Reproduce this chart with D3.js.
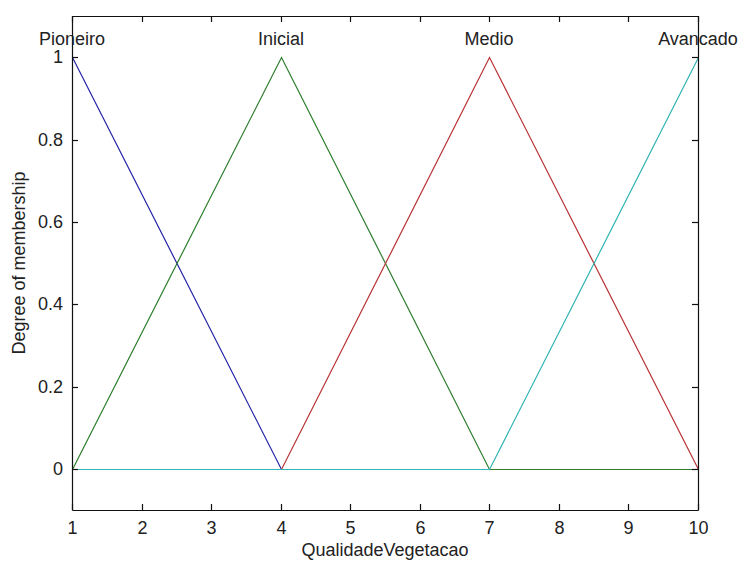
<!DOCTYPE html>
<html>
<head>
<meta charset="utf-8">
<script src="https://cdn.jsdelivr.net/npm/d3@7/dist/d3.min.js"></script>
<style>
  html, body { margin: 0; padding: 0; background: #fff; }
  svg { display: block; }
  text { font-family: "Liberation Sans", Arial, sans-serif; fill: #222; }
</style>
</head>
<body>
<svg id="chart" width="739" height="561"></svg>
<script>
// ---- data ----
const xPoints = [1, 4, 7, 10];
const mfNames = ["Pioneiro", "Inicial", "Medio", "Avancado"];
const mfPeaks = [1, 4, 7, 10];
const pioneiro = [1, 0, 0, 0];
const inicial = [0, 1, 0, 0];
const medio = [0, 0, 1, 0];
const avancado = [0, 0, 0, 1];
const xTicks = [1, 2, 3, 4, 5, 6, 7, 8, 9, 10];
const yTicks = [0, 0.2, 0.4, 0.6, 0.8, 1];
const xLabel = "QualidadeVegetacao";
const yLabel = "Degree of membership";

const seriesValues = [pioneiro, inicial, medio, avancado];
const colors = ["#2424a8", "#2c7d2c", "#b83234", "#30b4b4"];

// ---- layout ----
const svg = d3.select("#chart");
const L = 72, R = 698, T = 16, B = 510;
const xs = d3.scaleLinear().domain([1, 10]).range([L, R]).interpolate(d3.interpolateRound);
const ys = d3.scaleLinear().domain([-0.1, 1.1]).range([B, T]).interpolate(d3.interpolateRound);

const fontSize = 18;

// lines
const line = d3.line().x((d, i) => xs(xPoints[i]) + 0.5).y(d => ys(d) + 0.5);
seriesValues.forEach((vals, k) => {
  svg.append("path")
    .attr("d", line(vals))
    .attr("fill", "none")
    .attr("stroke", colors[k])
    .attr("stroke-width", 1.2);
});

// axes (inward ticks, boxed)
const tickLen = 6;
const axisColor = "#111";
const gBottom = svg.append("g").attr("transform", `translate(0,${B})`)
  .call(d3.axisBottom(xs).tickValues(xTicks).tickSize(-tickLen).tickPadding(11).tickFormat(d3.format("d")));
const gTop = svg.append("g").attr("transform", `translate(0,${T})`)
  .call(d3.axisTop(xs).tickValues(xTicks).tickSize(-tickLen).tickFormat(""));
const gLeft = svg.append("g").attr("transform", `translate(${L},0)`)
  .call(d3.axisLeft(ys).tickValues(yTicks).tickSize(-tickLen).tickPadding(9).tickFormat(d => d === 0 || d === 1 ? d3.format("d")(d) : d3.format(".1f")(d)));
const gRight = svg.append("g").attr("transform", `translate(${R},0)`)
  .call(d3.axisRight(ys).tickValues(yTicks).tickSize(-tickLen).tickFormat(""));

[gBottom, gTop, gLeft, gRight].forEach(g => {
  g.select(".domain").attr("stroke", axisColor).attr("stroke-width", 1.2);
  g.selectAll(".tick line").attr("stroke", axisColor).attr("stroke-width", 1.2);
  g.selectAll(".tick text").attr("font-size", fontSize).attr("fill", "#222")
    .attr("font-family", '"Liberation Sans", Arial, sans-serif');
});
[gBottom, gTop].forEach(g => g.select(".domain").attr("d", `M${L + 0.5},0.5H${R + 0.5}`));
[gLeft, gRight].forEach(g => g.select(".domain").attr("d", `M0.5,${T + 0.5}V${B + 0.5}`));

// MF labels
mfNames.forEach((name, k) => {
  svg.append("text")
    .attr("x", xs(mfPeaks[k]))
    .attr("y", 45)
    .attr("text-anchor", "middle")
    .attr("font-size", fontSize)
    .text(name);
});

// axis labels
svg.append("text")
  .attr("x", (L + R) / 2)
  .attr("y", 556)
  .attr("text-anchor", "middle")
  .attr("font-size", fontSize)
  .text(xLabel);

svg.append("text")
  .attr("transform", `translate(25,${(T + B) / 2}) rotate(-90)`)
  .attr("text-anchor", "middle")
  .attr("font-size", fontSize)
  .text(yLabel);
</script>
</body>
</html>
